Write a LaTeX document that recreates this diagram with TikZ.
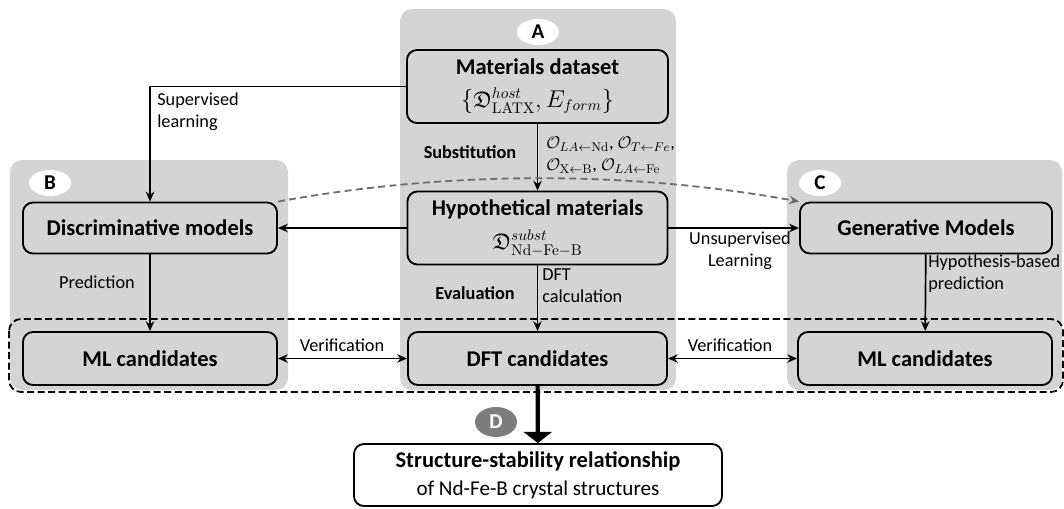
\documentclass[tikz,border=0pt]{standalone}
\usepackage{amssymb}
\usepackage[no-math]{fontspec}
\setmainfont{Carlito}
\usetikzlibrary{arrows.meta,shapes.geometric}
\definecolor{panelgray}{RGB}{211,212,214}
\definecolor{taggray}{RGB}{125,125,125}
\definecolor{curvegray}{RGB}{110,110,110}
\tikzset{
    >={Stealth[length=7pt,width=6pt]}, % Default arrow tip
    box/.style={draw, line width=1.3pt, rounded corners=0.25cm, fill=panelgray,
        align=center, inner sep=0pt, font=\fontsize{16}{20}\selectfont\bfseries},
    panel/.style={fill=panelgray, rounded corners=0.3cm},
    tag/.style={ellipse, fill=white, inner sep=0pt, minimum width=1.05cm,
        minimum height=0.65cm, font=\fontsize{15}{15}\selectfont\bfseries},
    conn/.style={->, line width=1.2pt},
    lbl/.style={inner sep=0pt, font=\fontsize{13}{15.5}\selectfont}
}

\begin{document}
\begin{tikzpicture}[x=0.025cm, y=-0.025cm]
    \useasboundingbox (0,0) rectangle (1064,508);

    % grey panels A, B, C
    \fill[panel] (400,9) rectangle (676,390);
    \fill[panel] (10,160) rectangle (288,390);
    \fill[panel] (787,160) rectangle (1062,390);

    \draw[line width=1.3pt, dashed, dash pattern=on 5pt off 2.5pt, rounded corners=0.3cm]
        (9,319) rectangle (1063,392);

    \node[tag] (taga) at (538,32) {A};
    \node[tag] (tagb) at (50,183) {B};
    \node[tag] (tagc) at (820,183) {C};
    \node[tag, fill=taggray, text=white, minimum height=0.75cm] (tagd) at (496,422) {D};

    \node[box, minimum width=6.525cm, minimum height=1.825cm] (dataset) at (537.5,86.5)
        {Materials dataset\\[3pt] \mdseries$\{\mathfrak{D}^{host}_{\mathrm{LATX}}, E_{form}\}$};
    \node[box, minimum width=6.5cm, minimum height=1.825cm] (hypo) at (537.5,228)
        {Hypothetical materials\\[4pt] \mdseries$\mathfrak{D}^{subst}_{\mathrm{Nd{-}Fe{-}B}}$};
    \node[box, minimum width=6.35cm, minimum height=1.275cm] (disc) at (150,228) {Discriminative models};
    \node[box, minimum width=6.3cm, minimum height=1.275cm] (gen) at (926,228) {Generative Models};
    \node[box, minimum width=6.35cm, minimum height=1.325cm] (mlleft) at (150,358.5) {ML candidates};
    \node[box, minimum width=6.475cm, minimum height=1.325cm] (dft) at (537.5,358.5) {DFT candidates};
    \node[box, minimum width=6.35cm, minimum height=1.325cm] (mlright) at (925,358.5) {ML candidates};
    \node[box, fill=white, minimum width=9.2cm, minimum height=1.55cm] (result) at (538,475)
        {Structure-stability relationship\\ \mdseries\fontsize{15}{20}\selectfont of Nd-Fe-B crystal structures};

    % connectors
    \draw[conn] (dataset) -- (hypo);
    \draw[conn] (dataset.west) -| (disc.north);
    \draw[conn] (hypo) -- (disc);
    \draw[conn] (hypo) -- (gen);
    \draw[conn] (disc) -- (mlleft);
    \draw[conn] (hypo) -- (dft);
    \draw[conn] (gen) -- (mlright);
    \draw[conn, <->] (mlleft) -- (dft);
    \draw[conn, <->] (dft) -- (mlright);
    \draw[line width=3pt, -{Triangle[width=20pt,length=8pt]}] (dft) -- (result);
    \draw[curvegray, line width=1.3pt, dashed, dash pattern=on 5pt off 3pt, ->]
        (disc.north east) .. controls +(170,-31) and +(-170,-31) .. (gen.north west);

    % labels
    \node[lbl, anchor=west, align=left] (suplbl) at (157,112) {Supervised\\learning};
    \node[lbl, font=\fontsize{13}{15}\selectfont\bfseries] (sublbl) at (470,152) {Substitution};
    \node[lbl, anchor=west, align=left] (oplbl) at (546,155)
        {$\mathcal{O}_{LA\leftarrow\mathrm{Nd}}$, $\mathcal{O}_{T\leftarrow Fe}$,\\
         $\mathcal{O}_{\mathrm{X}\leftarrow\mathrm{B}}$, $\mathcal{O}_{LA\leftarrow\mathrm{Fe}}$};
    \node[lbl] (predlbl) at (97,282) {Prediction};
    \node[lbl, align=center] (unsuplbl) at (740,251) {Unsupervised\\Learning};
    \node[lbl, anchor=west, align=left] (dftlbl) at (542,286) {DFT\\calculation};
    \node[lbl, font=\fontsize{13}{15}\selectfont\bfseries] (evallbl) at (475,293) {Evaluation};
    \node[lbl, anchor=west, align=left] (hyplbl) at (928,274) {Hypothesis-based\\prediction};
    \node[lbl] (verlbl1) at (342,345) {Verification};
    \node[lbl] (verlbl2) at (730,345) {Verification};
\end{tikzpicture}
\end{document}
